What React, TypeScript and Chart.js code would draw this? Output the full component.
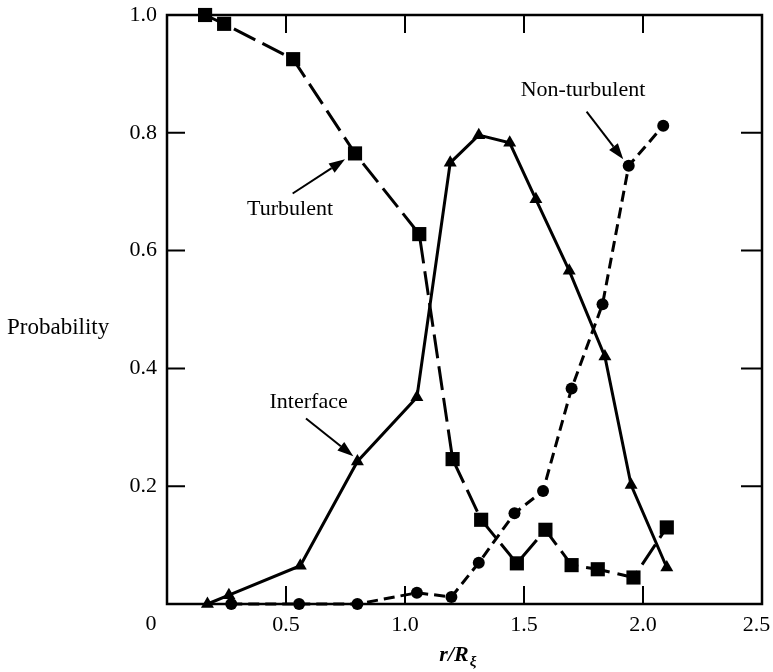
import { useEffect, useRef } from 'react';
import { Chart, registerables } from 'chart.js';

Chart.register(...registerables);

// Radial position r/R_ξ and probability for each flow state
const turbulentR = [0.16, 0.24, 0.53, 0.79, 1.06, 1.2, 1.32, 1.47, 1.59, 1.7, 1.81, 1.96, 2.1];
const turbulentP = [1.0, 0.985, 0.925, 0.765, 0.628, 0.246, 0.143, 0.069, 0.126, 0.066, 0.059, 0.045, 0.13];

const interfaceR = [0.17, 0.26, 0.56, 0.8, 1.05, 1.19, 1.31, 1.44, 1.55, 1.69, 1.84, 1.95, 2.1];
const interfaceP = [0.0, 0.015, 0.065, 0.242, 0.351, 0.749, 0.796, 0.783, 0.687, 0.566, 0.42, 0.202, 0.062];

const nonTurbulentR = [0.27, 0.555, 0.8, 1.05, 1.195, 1.31, 1.46, 1.58, 1.7, 1.83, 1.94, 2.085];
const nonTurbulentP = [0.0, 0.0, 0.0, 0.019, 0.012, 0.07, 0.154, 0.192, 0.366, 0.509, 0.744, 0.812];

// Axis ticks
const xTicks = [0, 0.5, 1.0, 1.5, 2.0, 2.5];
const yTicks = [0.2, 0.4, 0.6, 0.8, 1.0];
const xInner = [0.5, 1.0, 1.5, 2.0];
const yInner = [0.2, 0.4, 0.6, 0.8];

// Curve labels with their pointer arrows, in data units
const curveNotes = [
  { text: 'Turbulent', at: [0.517, 0.671], tail: [0.528, 0.697], head: [0.748, 0.755] },
  { text: 'Interface', at: [0.595, 0.342], tail: [0.584, 0.315], head: [0.783, 0.251] },
  { text: 'Non-turbulent', at: [1.748, 0.873], tail: [1.763, 0.836], head: [1.917, 0.755] },
];

const SERIF = '"Liberation Serif", "DejaVu Serif", serif';

const zip = (xs: number[], ys: number[]) => xs.map((x, i) => ({ x, y: ys[i] }));

const framePlugin = {
  id: 'frameAndTicks',
  beforeDatasetsDraw(chart: any) {
    const { ctx, chartArea: a, scales } = chart;
    const xs = scales.x;
    const ys = scales.y;
    ctx.save();
    ctx.strokeStyle = '#000';
    ctx.lineWidth = 2.5;
    ctx.strokeRect(a.left, a.top, a.right - a.left, a.bottom - a.top);
    ctx.lineWidth = 2;
    const len = 18;
    ctx.beginPath();
    for (const v of xInner) {
      const px = xs.getPixelForValue(v);
      ctx.moveTo(px, a.bottom);
      ctx.lineTo(px, a.bottom - len);
      ctx.moveTo(px, a.top);
      ctx.lineTo(px, a.top + len);
    }
    for (const v of yInner) {
      const py = ys.getPixelForValue(v);
      ctx.moveTo(a.left, py);
      ctx.lineTo(a.left + len, py);
      ctx.moveTo(a.right, py);
      ctx.lineTo(a.right - len - 3, py);
    }
    ctx.stroke();
    ctx.restore();
  },
  afterDatasetsDraw(chart: any) {
    const { ctx, chartArea: a, scales } = chart;
    const xs = scales.x;
    const ys = scales.y;
    ctx.save();
    ctx.fillStyle = '#000';
    ctx.strokeStyle = '#000';

    // Curve labels and arrows
    ctx.font = `22px ${SERIF}`;
    ctx.textAlign = 'center';
    ctx.textBaseline = 'middle';
    for (const n of curveNotes) {
      ctx.fillText(n.text, xs.getPixelForValue(n.at[0]), ys.getPixelForValue(n.at[1]));
      const x0 = xs.getPixelForValue(n.tail[0]);
      const y0 = ys.getPixelForValue(n.tail[1]);
      const x1 = xs.getPixelForValue(n.head[0]);
      const y1 = ys.getPixelForValue(n.head[1]);
      const ang = Math.atan2(y1 - y0, x1 - x0);
      const hl = 16;
      const hw = 5.5;
      const bx = x1 - hl * Math.cos(ang);
      const by = y1 - hl * Math.sin(ang);
      ctx.lineWidth = 2;
      ctx.beginPath();
      ctx.moveTo(x0, y0);
      ctx.lineTo(bx, by);
      ctx.stroke();
      ctx.beginPath();
      ctx.moveTo(x1, y1);
      ctx.lineTo(bx + hw * Math.sin(ang), by - hw * Math.cos(ang));
      ctx.lineTo(bx - hw * Math.sin(ang), by + hw * Math.cos(ang));
      ctx.closePath();
      ctx.fill();
    }

    // Shared origin label
    ctx.font = `22px ${SERIF}`;
    ctx.textAlign = 'center';
    ctx.fillText('0', a.left - 16, a.bottom + 20);

    // Y-axis title, horizontal
    ctx.font = `23px ${SERIF}`;
    ctx.textAlign = 'left';
    ctx.fillText('Probability', 7, ys.getPixelForValue(0.468));

    // X-axis title r/R_ξ
    ctx.textAlign = 'left';
    ctx.textBaseline = 'alphabetic';
    const main = 'r/R';
    ctx.font = `italic bold 22px ${SERIF}`;
    const w = ctx.measureText(main).width;
    ctx.font = `italic bold 15px ${SERIF}`;
    const ws = ctx.measureText('ξ').width;
    const cx = xs.getPixelForValue(1.22);
    const startX = cx - (w + ws) / 2;
    const base = a.bottom + 57;
    ctx.font = `italic bold 22px ${SERIF}`;
    ctx.fillText(main, startX, base);
    ctx.font = `italic bold 15px ${SERIF}`;
    ctx.fillText('ξ', startX + w + 1, base + 5);
    ctx.restore();
  },
};

export default function App() {
  const canvasRef = useRef<HTMLCanvasElement | null>(null);

  useEffect(() => {
    const canvas = canvasRef.current;
    if (!canvas) return;
    const chart = new Chart(canvas, {
      type: 'scatter',
      data: {
        datasets: [
          {
            label: 'Turbulent',
            data: zip(turbulentR, turbulentP),
            showLine: true,
            borderColor: '#000',
            backgroundColor: '#000',
            borderWidth: 3,
            borderDash: [24, 8],
            pointStyle: 'rect',
            pointRadius: 10,
            pointBorderWidth: 0,
            clip: false,
          },
          {
            label: 'Interface',
            data: zip(interfaceR, interfaceP),
            showLine: true,
            borderColor: '#000',
            backgroundColor: '#000',
            borderWidth: 3,
            pointStyle: 'triangle',
            pointRadius: 7.5,
            pointBorderWidth: 0,
            clip: false,
          },
          {
            label: 'Non-turbulent',
            data: zip(nonTurbulentR, nonTurbulentP),
            showLine: true,
            borderColor: '#000',
            backgroundColor: '#000',
            borderWidth: 3,
            borderDash: [11, 6],
            pointStyle: 'circle',
            pointRadius: 6,
            pointBorderWidth: 0,
            clip: false,
          },
        ],
      },
      options: {
        animation: false,
        responsive: false,
        events: [],
        layout: { padding: { top: 15, right: 11, left: 0, bottom: 0 } },
        plugins: {
          legend: { display: false },
          tooltip: { enabled: false },
        },
        scales: {
          x: {
            type: 'linear',
            min: 0,
            max: 2.5,
            afterBuildTicks: (s: any) => {
              s.ticks = xTicks.map((v) => ({ value: v }));
            },
            afterFit: (s: any) => {
              s.height = 68;
              s.paddingLeft = 0;
              s.paddingRight = 0;
            },
            grid: { display: false, drawTicks: false },
            border: { display: false },
            ticks: {
              padding: 8,
              color: '#000',
              font: { family: SERIF, size: 22 },
              // the last label sits against the page edge, so its centre is nudged left
              callback: (v: any) => {
                const n = Number(v);
                if (n === 0) return '';
                return n === 2.5 ? '2.5\u2002' : n.toFixed(1);
              },
            },
          },
          y: {
            type: 'linear',
            min: 0,
            max: 1,
            afterBuildTicks: (s: any) => {
              s.ticks = yTicks.map((v) => ({ value: v }));
            },
            afterFit: (s: any) => {
              s.width = 167;
              s.paddingTop = 0;
              s.paddingBottom = 0;
            },
            grid: { display: false, drawTicks: false },
            border: { display: false },
            ticks: {
              padding: 10,
              color: '#000',
              font: { family: SERIF, size: 22 },
              callback: (v: any) => Number(v).toFixed(1),
            },
          },
        },
      },
      plugins: [framePlugin],
    });
    return () => chart.destroy();
  }, []);

  return (
    <div style={{ position: 'fixed', left: 0, top: 0, width: 773, height: 672, background: '#fff' }}>
      <canvas ref={canvasRef} width={773} height={672} style={{ display: 'block' }} />
    </div>
  );
}
